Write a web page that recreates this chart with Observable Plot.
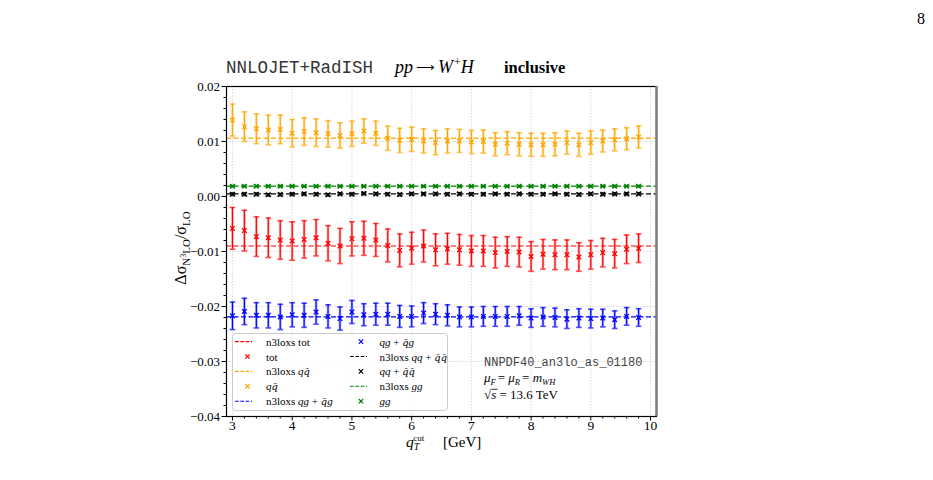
<!DOCTYPE html>
<html><head><meta charset="utf-8">
<script src="https://cdn.jsdelivr.net/npm/d3@7"></script>
<script src="https://cdn.jsdelivr.net/npm/@observablehq/plot@0.6"></script>
<style>
body{margin:0;background:#fff;}
#wrap{position:relative;width:933px;height:480px;overflow:hidden;background:#fff;}
#wrap svg{position:absolute;left:0;top:0;}
</style></head><body><div id="wrap"></div>
<script>
// ---- data ----
const qtcut = [3.0,3.2,3.4,3.6,3.8,4.0,4.2,4.4,4.6,4.8,5.0,5.2,5.4,5.6,5.8,6.0,6.2,6.4,6.6,6.8,7.0,7.2,7.4,7.6,7.8,8.0,8.2,8.4,8.6,8.8,9.0,9.2,9.4,9.6,9.8];

const tot = [-0.0058,-0.0062,-0.0073,-0.0075,-0.0079,-0.0081,-0.0078,-0.0075,-0.0085,-0.0090,-0.0077,-0.0076,-0.0079,-0.0089,-0.0098,-0.0094,-0.0090,-0.0097,-0.0095,-0.0097,-0.0099,-0.0099,-0.0102,-0.0100,-0.0101,-0.0109,-0.0105,-0.0106,-0.0106,-0.0110,-0.0106,-0.0102,-0.0104,-0.0096,-0.0094];
const totErr = [0.0038,0.0037,0.0036,0.0036,0.0035,0.0035,0.0034,0.0033,0.0032,0.0032,0.0031,0.0031,0.0030,0.0030,0.0030,0.0029,0.0029,0.0029,0.0028,0.0028,0.0028,0.0028,0.0028,0.0027,0.0027,0.0027,0.0027,0.0027,0.0027,0.0026,0.0026,0.0026,0.0026,0.0026,0.0026];

const qqbar = [0.0139,0.0127,0.0123,0.0121,0.0122,0.0115,0.0118,0.0116,0.0114,0.0111,0.0114,0.0119,0.0115,0.0106,0.0102,0.0104,0.0101,0.0098,0.0101,0.0101,0.0099,0.0100,0.0095,0.0097,0.0095,0.0094,0.0094,0.0095,0.0098,0.0094,0.0098,0.0101,0.0103,0.0105,0.0108];
const qqbarErr = [0.0029,0.0027,0.0027,0.0027,0.0026,0.0025,0.0025,0.0025,0.0024,0.0023,0.0023,0.0022,0.0022,0.0022,0.0022,0.0022,0.0022,0.0022,0.0022,0.0021,0.0021,0.0021,0.0021,0.0021,0.0021,0.0021,0.0021,0.0021,0.0021,0.0021,0.0021,0.0020,0.0020,0.0020,0.0020];

const qg = [-0.0217,-0.0209,-0.0216,-0.0216,-0.0219,-0.0215,-0.0216,-0.0210,-0.0218,-0.0222,-0.0210,-0.0215,-0.0214,-0.0214,-0.0218,-0.0218,-0.0212,-0.0214,-0.0216,-0.0219,-0.0219,-0.0218,-0.0218,-0.0218,-0.0217,-0.0221,-0.0219,-0.0220,-0.0223,-0.0221,-0.0222,-0.0221,-0.0224,-0.0218,-0.0220];
const qgErr = [0.0025,0.0024,0.0023,0.0023,0.0023,0.0022,0.0022,0.0022,0.0021,0.0021,0.0021,0.0020,0.0020,0.0020,0.0020,0.0019,0.0019,0.0019,0.0019,0.0018,0.0018,0.0018,0.0018,0.0018,0.0017,0.0017,0.0017,0.0017,0.0017,0.0017,0.0017,0.0016,0.0016,0.0016,0.0016];

const qq = [0.00042,0.00042,0.00042,0.00030,0.00036,0.00042,0.00048,0.00042,0.00030,0.00048,0.00042,0.00055,0.00048,0.00042,0.00036,0.00048,0.00048,0.00048,0.00042,0.00048,0.00042,0.00042,0.00048,0.00042,0.00048,0.00042,0.00042,0.00048,0.00042,0.00036,0.00048,0.00042,0.00048,0.00048,0.00048];
const qqErr = [0.0002,0.0002,0.0002,0.0002,0.0002,0.0002,0.0002,0.0002,0.0002,0.0002,0.0002,0.0002,0.0002,0.0002,0.0002,0.0002,0.0002,0.0002,0.0002,0.0002,0.0002,0.0002,0.0002,0.0002,0.0002,0.0002,0.0002,0.0002,0.0002,0.0002,0.0002,0.0002,0.0002,0.0002,0.0002];

const gg = [0.00188,0.00188,0.00188,0.00188,0.00188,0.00188,0.00188,0.00188,0.00188,0.00188,0.00188,0.00188,0.00188,0.00188,0.00188,0.00188,0.00188,0.00188,0.00188,0.00188,0.00188,0.00188,0.00188,0.00188,0.00188,0.00188,0.00188,0.00188,0.00188,0.00188,0.00188,0.00188,0.00188,0.00188,0.00188];
const ggErr = [0.00012,0.00012,0.00012,0.00012,0.00012,0.00012,0.00012,0.00012,0.00012,0.00012,0.00012,0.00012,0.00012,0.00012,0.00012,0.00012,0.00012,0.00012,0.00012,0.00012,0.00012,0.00012,0.00012,0.00012,0.00012,0.00012,0.00012,0.00012,0.00012,0.00012,0.00012,0.00012,0.00012,0.00012,0.00012];

// n3loxs reference values (dashed lines)
const n3loxsNames = ["tot","qqbar","qg","qq","gg"];
const n3loxsValues = [-0.0090, 0.0106, -0.0219, 0.00048, 0.00188];
const seriesColors = ["#ff0000","#ffa500","#0000ff","#000000","#008000"];

const xTicks = [3,4,5,6,7,8,9,10];
const xMinorTicks = [3.2,3.4,3.6,3.8,4.2,4.4,4.6,4.8,5.2,5.4,5.6,5.8,6.2,6.4,6.6,6.8,7.2,7.4,7.6,7.8,8.2,8.4,8.6,8.8,9.2,9.4,9.6,9.8];
const yTicks = [-0.04,-0.03,-0.02,-0.01,0.00,0.01,0.02];
const yMinorTicks = [-0.038,-0.036,-0.034,-0.032,-0.028,-0.026,-0.024,-0.022,-0.018,-0.016,-0.014,-0.012,-0.008,-0.006,-0.004,-0.002,0.002,0.004,0.006,0.008,0.012,0.014,0.016,0.018];

// ---- build tables ----
const seriesVals = [tot, qqbar, qg, qq, gg];
const seriesErrs = [totErr, qqbarErr, qgErr, qqErr, ggErr];
const rows = [];
n3loxsNames.forEach((name, i) => {
  qtcut.forEach((x, j) => rows.push({series: name, x, y: seriesVals[i][j], e: seriesErrs[i][j], color: seriesColors[i]}));
});
const refRows = n3loxsNames.map((name, i) => ({series: name, y: n3loxsValues[i], color: seriesColors[i]}));

const cap = {draw(ctx){ ctx.moveTo(-2.8, 0); ctx.lineTo(2.8, 0); }};

const chart = Plot.plot({
  width: 933, height: 480,
  marginLeft: 226, marginRight: 277, marginTop: 86, marginBottom: 64,
  x: {domain: [2.9, 10.1]},
  y: {domain: [-0.04, 0.02]},
  style: {fontFamily: "Liberation Serif, serif", fontSize: "13px", color: "black", background: "transparent"},
  marks: [
    Plot.ruleX(xTicks, {stroke: "#d0d0d0", strokeDasharray: "1.5,1.5", strokeWidth: 0.8}),
    Plot.ruleY(yTicks, {stroke: "#d0d0d0", strokeDasharray: "1.5,1.5", strokeWidth: 0.8}),
    Plot.ruleY(refRows, {y: "y", stroke: "color", strokeDasharray: "5,2.5", strokeWidth: 1.2}),
    // error bars: translucent wide + solid thin
    Plot.ruleX(rows, {x: "x", y1: d => d.y - d.e, y2: d => d.y + d.e, stroke: "color", strokeWidth: 2.6, strokeOpacity: 0.35}),
    Plot.ruleX(rows, {x: "x", y1: d => d.y - d.e, y2: d => d.y + d.e, stroke: "color", strokeWidth: 1.1}),
    Plot.dot(rows, {x: "x", y: d => d.y + d.e, symbol: cap, r: 3, fill: "none", stroke: "color", strokeWidth: 1.6, strokeOpacity: 0.7}),
    Plot.dot(rows, {x: "x", y: d => d.y - d.e, symbol: cap, r: 3, fill: "none", stroke: "color", strokeWidth: 1.6, strokeOpacity: 0.7}),
    Plot.dot(rows, {x: "x", y: "y", symbol: "times", r: 2.2, stroke: "color", strokeWidth: 1.4}),
    Plot.axisX({ticks: xMinorTicks, tickSize: 2.5, tickFormat: () => "", label: null}),
    Plot.axisX({ticks: xTicks, tickSize: 4.5, tickPadding: -1, tickFormat: d => String(d), fontSize: 13.5, label: null}),
    Plot.axisY({ticks: yMinorTicks, tickSize: 2.5, tickFormat: () => "", label: null}),
    Plot.axisY({ticks: yTicks, tickSize: 4.5, tickPadding: 2, tickFormat: d3.format(".2f"), fontSize: 13, label: null}),
    Plot.frame({stroke: "black", strokeWidth: 1.2}),
    Plot.ruleX([10.1], {stroke: "#808080", strokeWidth: 2.5})
  ]
});
const wrap = document.getElementById("wrap");
wrap.appendChild(chart);

// ---- overlay text (title, labels, legend, annotation) ----
const NS = "http://www.w3.org/2000/svg";
const ov = document.createElementNS(NS, "svg");
ov.setAttribute("width", 933); ov.setAttribute("height", 480);
ov.style.pointerEvents = "none";
const qb = `<tspan font-family="DejaVu Serif" font-style="italic" font-size="0.9em">q̄</tspan>`;
ov.innerHTML = `
<g font-family="Liberation Serif, serif" fill="black">
  <text x="921" y="24" font-size="16" text-anchor="middle">8</text>
  <text x="226" y="73" font-family="Liberation Mono, monospace" font-size="17.5" fill="#333">NNLOJET+RadISH</text>
  <text x="395" y="73" font-size="18"><tspan font-style="italic">pp</tspan><tspan dx="3" dy="-1" font-size="12.5">⟶</tspan><tspan dx="3" dy="1" font-style="italic">W</tspan><tspan font-size="12" dx="1" dy="-7">+</tspan><tspan font-style="italic" dy="7">H</tspan></text>
  <text x="504" y="73" font-size="16.5" font-weight="bold">inclusive</text>

  <text transform="translate(186,248) rotate(-90)" text-anchor="middle" font-size="16">Δσ<tspan font-size="11" dy="4">N</tspan><tspan font-size="8" dy="-4">3</tspan><tspan font-size="11" dy="4">LO</tspan><tspan font-size="16" dy="-4">/σ</tspan><tspan font-size="11" dy="4">LO</tspan></text>

  <text x="406" y="447" font-size="15.5"><tspan font-style="italic">q</tspan><tspan font-size="10" font-style="italic" dy="3">T</tspan><tspan font-size="9" dx="-6" dy="-9">cut</tspan><tspan x="443" dy="6" font-size="15">[GeV]</tspan></text>

  <text x="484" y="366" font-family="Liberation Mono, monospace" font-size="12" fill="#444">NNPDF40_an3lo_as_01180</text>
  <text x="484" y="382" font-size="13"><tspan font-style="italic">μ</tspan><tspan font-size="8.5" font-style="italic" dy="2.5">F</tspan><tspan dx="2" dy="-2.5">= </tspan><tspan font-style="italic">μ</tspan><tspan font-size="8.5" font-style="italic" dy="2.5">R</tspan><tspan dx="2" dy="-2.5">= </tspan><tspan font-style="italic">m</tspan><tspan font-size="8.5" font-style="italic" dy="2.5">WH</tspan></text>
  <text x="484" y="399" font-size="13">√<tspan font-style="italic">s</tspan> = 13.6 TeV</text>
  <line x1="491.5" x2="497.5" y1="389.3" y2="389.3" stroke="black" stroke-width="0.8"/>
</g>`;

// legend
const legendEntries = [
  [0,0,"line","#ff0000",`n3loxs tot`],
  [0,1,"mark","#ff0000",`tot`],
  [0,2,"line","#ffa500",`n3loxs <tspan font-style="italic">q</tspan>${qb}`],
  [0,3,"mark","#ffa500",`<tspan font-style="italic">q</tspan>${qb}`],
  [0,4,"line","#0000ff",`n3loxs <tspan font-style="italic">qg</tspan> + ${qb}<tspan font-style="italic">g</tspan>`],
  [1,0,"mark","#0000ff",`<tspan font-style="italic">qg</tspan> + ${qb}<tspan font-style="italic">g</tspan>`],
  [1,1,"line","#000000",`n3loxs <tspan font-style="italic">qq</tspan> + ${qb}${qb}`],
  [1,2,"mark","#000000",`<tspan font-style="italic">qq</tspan> + ${qb}${qb}`],
  [1,3,"line","#008000",`n3loxs <tspan font-style="italic">gg</tspan>`],
  [1,4,"mark","#008000",`<tspan font-style="italic">gg</tspan>`]
];
let lg = `<g font-family="Liberation Serif, serif" font-size="11"><rect x="232.5" y="333.5" width="215" height="77" rx="3" fill="white" fill-opacity="0.85" stroke="#cccccc"/>`;
const colHandle = [235, 350], colText = [266, 379.5], colMark = [247.5, 361];
legendEntries.forEach(([c, r, kind, color, label]) => {
  const cy = 341.6 + r * 14.9;
  if (kind === "line") {
    lg += `<line x1="${colHandle[c]}" x2="${colHandle[c] + 17}" y1="${cy}" y2="${cy}" stroke="${color}" stroke-width="1.1" stroke-dasharray="3.7,1.6"/>`;
  } else {
    const mx = colMark[c], s = 2.2;
    lg += `<path d="M${mx - s},${cy - s}L${mx + s},${cy + s}M${mx - s},${cy + s}L${mx + s},${cy - s}" stroke="${color}" stroke-width="1.2"/>`;
  }
  lg += `<text x="${colText[c]}" y="${cy + 4}">${label}</text>`;
});
lg += `</g>`;
ov.innerHTML += lg;
wrap.appendChild(ov);
</script>
</body></html>
